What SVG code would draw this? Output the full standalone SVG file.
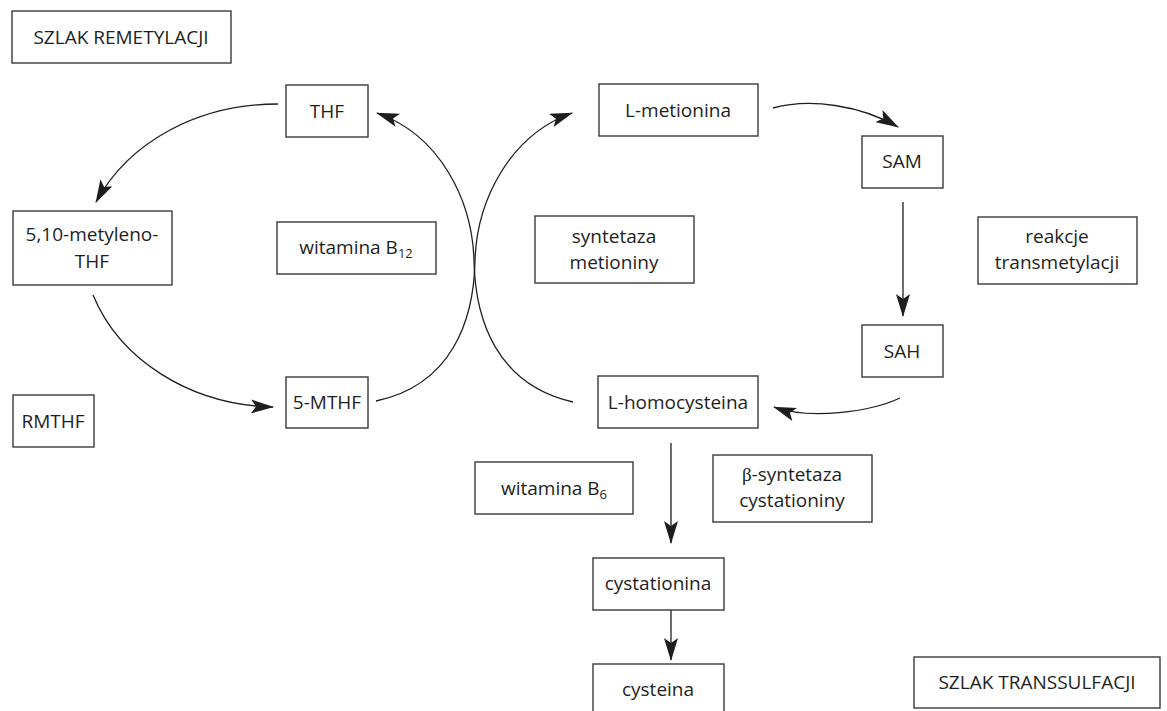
<svg xmlns="http://www.w3.org/2000/svg" width="1167" height="711" viewBox="0 0 1167 711">
<style>
  .box { fill: #fff; stroke: #3a3a3a; stroke-width: 1.4; }
  .t { font-family: "Open Sans", "Liberation Sans", sans-serif; font-size: 19px; fill: #1e1e1e; text-anchor: middle; }
  .c { fill: none; stroke: #1e1e1e; stroke-width: 1.3; marker-end: url(#ah); }
  .sub { font-size: 13px; }
</style>
<defs>
  <marker id="ah" markerUnits="userSpaceOnUse" viewBox="0 0 23 14" refX="22" refY="7" markerWidth="23" markerHeight="14" orient="auto">
    <path d="M0,0 L23,7 L0,14 L5,7 z" fill="#1e1e1e"/>
  </marker>
</defs>
<rect width="1167" height="711" fill="#fff"/>

<g id="connectors">
  <path class="c" d="M278,104 C200,104 130,140 96,202"/>
  <path class="c" d="M93,295 C120,360 190,405 273,407"/>
  <path class="c" d="M376,401 C452,385 474,320 475,260 C477,200 510,135 572,113"/>
  <path class="c" d="M573,402 C497,385 475,320 474,260 C472,200 440,135 377,113"/>
  <path class="c" d="M773,108 C810,98 860,105 898,127"/>
  <path class="c" d="M903,202 L903,316"/>
  <path class="c" d="M900,398 C870,412 810,420 774,407"/>
  <path class="c" d="M671,443 L671,543"/>
  <path class="c" d="M671,610 L671,660"/>
</g>

<g id="szlak-remetylacji">
  <rect class="box" x="12" y="11" width="219" height="52"/>
  <text class="t" x="121" y="44">SZLAK REMETYLACJI</text>
</g>
<g id="thf">
  <rect class="box" x="286" y="85" width="82" height="52"/>
  <text class="t" x="327" y="118">THF</text>
</g>
<g id="metyleno-thf">
  <rect class="box" x="13" y="211" width="159" height="74"/>
  <text class="t" x="92" y="241">5,10-metyleno-</text>
  <text class="t" x="92" y="268">THF</text>
</g>
<g id="witamina-b12">
  <rect class="box" x="277" y="222" width="159" height="52"/>
  <text class="t" x="356" y="254">witamina B<tspan class="sub" dy="4">12</tspan></text>
</g>
<g id="mthf">
  <rect class="box" x="286" y="377" width="82" height="51"/>
  <text class="t" x="327" y="409">5-MTHF</text>
</g>
<g id="rmthf">
  <rect class="box" x="13" y="395" width="81" height="52"/>
  <text class="t" x="53" y="428">RMTHF</text>
</g>
<g id="l-metionina">
  <rect class="box" x="599" y="84" width="159" height="52"/>
  <text class="t" x="678" y="117">L-metionina</text>
</g>
<g id="syntetaza-metioniny">
  <rect class="box" x="535" y="216" width="159" height="67"/>
  <text class="t" x="614" y="243">syntetaza</text>
  <text class="t" x="614" y="269">metioniny</text>
</g>
<g id="sam">
  <rect class="box" x="862" y="136" width="81" height="52"/>
  <text class="t" x="902" y="168">SAM</text>
</g>
<g id="reakcje-transmetylacji">
  <rect class="box" x="978" y="217" width="159" height="67"/>
  <text class="t" x="1057" y="243">reakcje</text>
  <text class="t" x="1057" y="269">transmetylacji</text>
</g>
<g id="sah">
  <rect class="box" x="862" y="325" width="81" height="52"/>
  <text class="t" x="902" y="358">SAH</text>
</g>
<g id="l-homocysteina">
  <rect class="box" x="598" y="376" width="160" height="52"/>
  <text class="t" x="678" y="409">L-homocysteina</text>
</g>
<g id="witamina-b6">
  <rect class="box" x="475" y="462" width="158" height="52"/>
  <text class="t" x="554" y="495">witamina B<tspan class="sub" dy="4">6</tspan></text>
</g>
<g id="beta-syntetaza">
  <rect class="box" x="713" y="455" width="159" height="67"/>
  <text class="t" x="792" y="481"><tspan font-family="'Liberation Serif', serif">β</tspan>-syntetaza</text>
  <text class="t" x="792" y="507">cystationiny</text>
</g>
<g id="cystationina">
  <rect class="box" x="593" y="558" width="131" height="52"/>
  <text class="t" x="658" y="590">cystationina</text>
</g>
<g id="cysteina">
  <rect class="box" x="593" y="664" width="131" height="60"/>
  <text class="t" x="658" y="696">cysteina</text>
</g>
<g id="szlak-transsulfacji">
  <rect class="box" x="914" y="657" width="246" height="51"/>
  <text class="t" x="1037" y="689">SZLAK TRANSSULFACJI</text>
</g>
</svg>
